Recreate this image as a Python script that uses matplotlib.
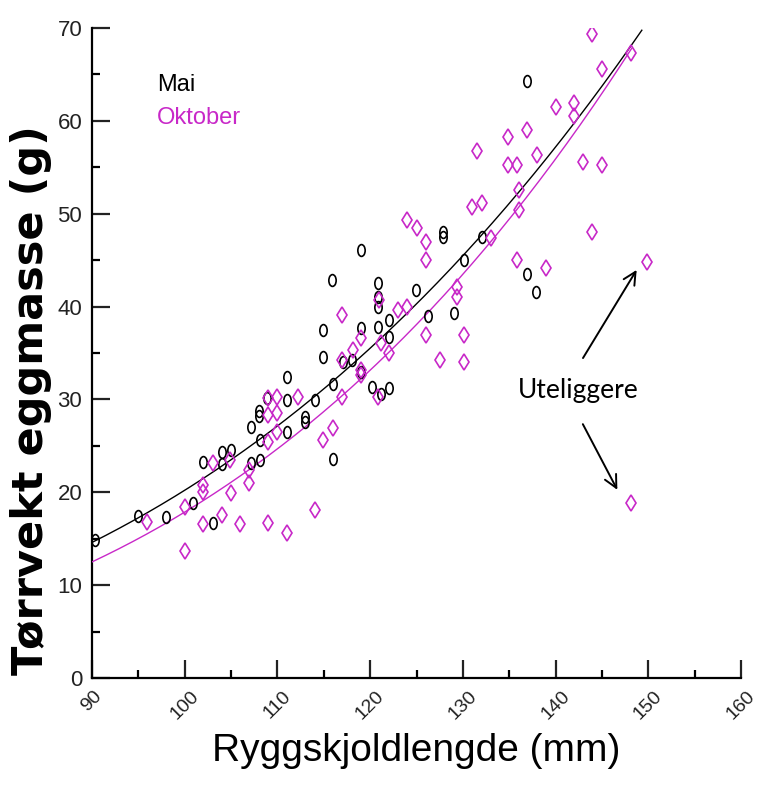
import numpy as np
import matplotlib
matplotlib.use("Agg")
import matplotlib.pyplot as plt
from matplotlib.path import Path
from matplotlib.transforms import Affine2D

# Mai (black)
mai_x = [90.3, 95.0, 98.0, 100.9, 102.0, 103.0, 104.0, 104.0, 105.0, 107.1,
         107.1, 108.0, 108.0, 108.1, 108.1, 108.9, 111.0, 111.0, 111.0, 113.0,
         113.0, 114.1, 114.9, 114.9, 115.9, 116.0, 116.0, 117.1, 118.0, 119.0,
         119.0, 119.0, 120.2, 120.8, 120.8, 120.8, 120.8, 121.2, 122.0, 122.0,
         122.0, 124.9, 126.2, 127.9, 127.9, 129.0, 130.1, 132.1, 136.9, 136.9,
         137.9]
mai_y = [14.9, 17.4, 17.3, 18.8, 23.3, 16.7, 24.3, 23.0, 24.6, 27.0,
         23.1, 28.8, 28.2, 23.5, 25.6, 30.2, 32.4, 29.9, 26.5, 28.1,
         27.6, 29.9, 34.6, 37.5, 42.9, 31.7, 23.6, 34.0, 34.2, 46.1,
         37.7, 33.0, 31.3, 42.5, 41.0, 39.9, 37.8, 30.6, 31.2, 38.5,
         36.7, 41.8, 39.0, 47.5, 48.0, 39.3, 45.0, 47.5, 64.3, 43.5,
         41.6]

# Oktober (magenta)
okt_x = [95.9, 100.0, 100.0, 102.0, 102.0, 102.0, 103.0, 104.0, 105.0, 104.9,
         106.0, 106.9, 106.9, 109.0, 109.0, 109.0, 109.0, 110.0, 110.0, 110.0,
         111.0, 112.2, 114.0, 114.9, 116.0, 117.0, 117.0, 117.0, 118.1, 119.0,
         119.0, 119.0, 120.8, 121.0, 121.2, 122.0, 123.0, 124.0, 124.0, 125.1,
         126.0, 126.0, 126.0, 127.5, 129.4, 129.4, 130.1, 130.1, 131.0, 131.5,
         132.1, 133.0, 134.9, 134.9, 135.8, 135.8, 136.0, 136.0, 136.9, 138.0,
         139.0, 140.0, 142.0, 142.0, 143.0, 143.9, 143.9, 145.0, 145.0, 148.1,
         149.9, 148.1]
okt_y = [16.8, 13.7, 18.4, 20.0, 20.8, 16.6, 23.1, 17.5, 19.9, 23.5,
         16.6, 22.4, 21.0, 16.7, 25.4, 28.3, 30.2, 28.5, 26.5, 30.3,
         15.6, 30.3, 18.1, 25.6, 26.9, 30.3, 34.2, 39.1, 35.3, 32.6,
         36.6, 33.2, 30.3, 40.7, 36.1, 35.0, 39.6, 39.9, 49.3, 48.5,
         46.9, 45.0, 36.9, 34.2, 42.1, 41.0, 36.9, 34.0, 50.7, 56.8,
         51.1, 47.4, 58.3, 55.2, 55.2, 45.0, 52.5, 50.4, 59.0, 56.3,
         44.1, 61.5, 61.9, 60.5, 55.6, 69.4, 48.0, 65.6, 55.2, 67.3,
         44.8, 18.8]

# fitted power curves y = a * (x/90)^b
mai_fit = dict(a=14.6, b=3.09, xmax=149.3)
okt_fit = dict(a=12.5, b=3.39, xmax=148.2)

magenta = "#c828c8"

plt.rcParams["font.family"] = "Liberation Sans"
fig = plt.figure(figsize=(7.58, 7.88), dpi=100)
ax = fig.add_axes([0.1214, 0.1396, 0.8562, 0.8249])

oval = Path.unit_circle().transformed(Affine2D().scale(0.62, 1.0))

for fit, col in [(mai_fit, "black"), (okt_fit, magenta)]:
    xs = np.linspace(90, fit["xmax"], 200)
    ax.plot(xs, fit["a"] * (xs / 90.0) ** fit["b"], color=col, lw=1.0, zorder=3)

ax.plot(mai_x, mai_y, ls="none", marker=oval, ms=8.5, mfc="none",
        mec="black", mew=1.2, zorder=4)
ax.plot(okt_x, okt_y, ls="none", marker="d", ms=8, mfc="none",
        mec=magenta, mew=1.2, zorder=4)

ax.set_xlim(90, 160)
ax.set_ylim(0, 70)
ax.set_xticks(np.arange(90, 161, 10))
ax.set_xticks(np.arange(95, 160, 10), minor=True)
ax.set_yticks(np.arange(0, 71, 10))
ax.set_yticks(np.arange(5, 70, 10), minor=True)
for s in ["top", "right"]:
    ax.spines[s].set_visible(False)
for s in ["left", "bottom"]:
    ax.spines[s].set_linewidth(1.6)
ax.tick_params(which="major", direction="in", length=13, width=1.6,
               labelsize=16, colors="#222222", pad=7)
ax.tick_params(axis="x", labelsize=14)
ax.tick_params(which="minor", direction="in", length=6, width=1.6)
for lab in ax.get_xticklabels():
    lab.set_rotation(45)
    lab.set_ha("center")

ax.set_xlabel("Ryggskjoldlengde (mm)", fontsize=28)
ax.xaxis.set_label_coords(0.5, -0.085)
ax.set_ylabel("Tørrvekt eggmasse (g)", fontsize=31, fontweight="bold",
              family="DejaVu Sans")
ax.yaxis.set_label_coords(-0.062, 0.427)

ax.text(97.0, 63.9, "Mai", color="black", fontsize=17, va="center")
ax.text(97.0, 60.3, "Oktober", color=magenta, fontsize=17, va="center")

ax.text(142.4, 31.0, "Uteliggere", fontsize=19, ha="center", va="center",
        family="Lato")
arrow = dict(arrowstyle="->,head_length=0.9,head_width=0.45", color="black", lw=1.4)
ax.annotate("", xy=(148.9, 44.2), xytext=(142.8, 34.2), arrowprops=arrow)
ax.annotate("", xy=(146.8, 20.0), xytext=(142.8, 27.6), arrowprops=arrow)

fig.savefig("out.png", dpi=100, facecolor="white")
